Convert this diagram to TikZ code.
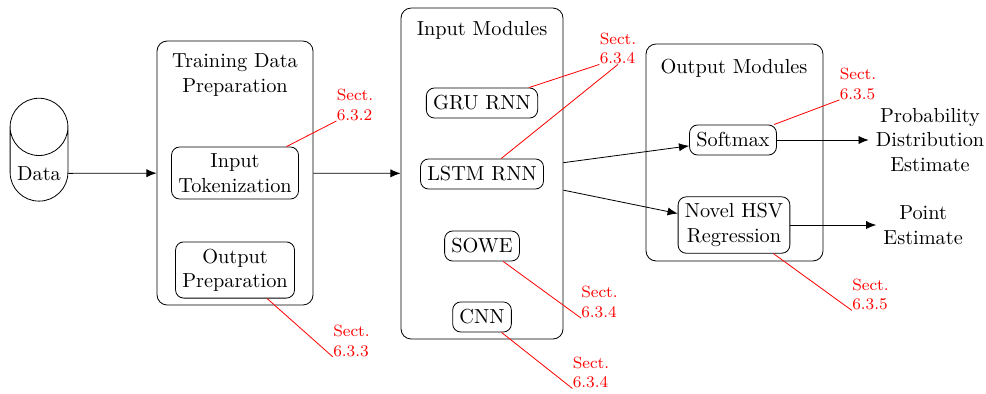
\documentclass[tikz,border=0pt]{standalone}
\usetikzlibrary{shapes.geometric,arrows.meta}
\begin{document}
\begin{tikzpicture}[
    box/.style={draw, rounded corners, align=center, minimum height=0.52cm},
    group/.style={draw, rounded corners=5pt},
    sect/.style={red, font=\footnotesize, align=left, inner sep=0pt},
    >={Latex[length=5pt,width=4pt]}]
    \useasboundingbox (0,0) rectangle (17.058,-6.816);
    % data source
    \node[draw, cylinder, shape border rotate=90, aspect=1,
      minimum width=1.0cm, minimum height=1.78cm] (data) at (0.675,-3.0) {Data};
    % training data preparation
    \node[group, minimum width=2.699cm, minimum height=4.567cm] (prep) at (4.066,-2.993) {};
    \node[align=center] (preptitle) at (4.066,-1.298) {Training Data\\Preparation};
    \node[box] (tok) at (4.066,-2.993) {Input\\Tokenization};
    \node[box] (outp) at (4.066,-4.671) {Output\\Preparation};
    % input modules
    \node[group, minimum width=2.803cm, minimum height=5.726cm] (inmod) at (8.339,-3.002) {};
    \node (intitle) at (8.339,-0.52) {Input Modules};
    \node[box] (gru) at (8.339,-1.782) {GRU RNN};
    \node[box] (lstm) at (8.339,-3.010) {LSTM RNN};
    \node[box] (sowe) at (8.339,-4.256) {SOWE};
    \node[box] (cnn) at (8.339,-5.484) {CNN};
    % output modules
    \node[group, minimum width=3.062cm, minimum height=3.754cm] (outmod) at (12.707,-2.638) {};
    \node (outtitle) at (12.698,-1.18) {Output Modules};
    \node[box] (soft) at (12.681,-2.422) {Softmax};
    \node[box] (hsv) at (12.698,-3.893) {Novel HSV\\Regression};
    % results
    \node[align=center] (prob) at (16.09,-2.422) {Probability\\Distribution\\Estimate};
    \node[align=center] (point) at (15.97,-3.893) {Point\\Estimate};
    % section references
    \node[sect] (s632) at (6.142,-1.817) {Sect.\\6.3.2};
    \node[sect] (s633) at (6.081,-5.899) {Sect.\\6.3.3};
    \node[sect] (s634a) at (10.691,-0.839) {Sect.\\6.3.4};
    \node[sect] (s634b) at (10.371,-5.225) {Sect.\\6.3.4};
    \node[sect] (s634c) at (10.224,-6.444) {Sect.\\6.3.4};
    \node[sect] (s635a) at (14.843,-1.453) {Sect.\\6.3.5};
    \node[sect] (s635b) at (15.060,-5.095) {Sect.\\6.3.5};

    \draw[->] (data) -- (prep);
    \draw[->] (prep) -- (inmod);
    \draw[->] (inmod) -- (soft);
    \draw[->] (inmod) -- (hsv);
    \draw[->] (soft) -- (prob);
    \draw[->] (hsv) -- (point);

    \draw[red] (tok) -- (s632.south west);
    \draw[red] (outp) -- (s633.south west);
    \draw[red] (gru) -- (s634a.south west);
    \draw[red] (lstm) -- (s634a.south);
    \draw[red] (sowe) -- (s634b.south west);
    \draw[red] (cnn) -- (s634c.south west);
    \draw[red] (soft) -- (s635a.south west);
    \draw[red] (hsv) -- (s635b.south west);
  \end{tikzpicture}
\end{document}
